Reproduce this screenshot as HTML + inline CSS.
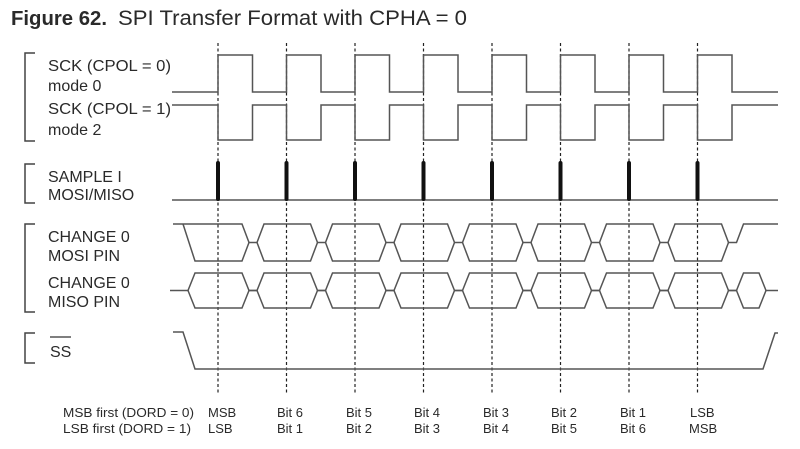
<!DOCTYPE html>
<html><head><meta charset="utf-8"><style>
html,body{margin:0;padding:0;background:#fff;}
svg{display:block;}
text{font-family:"Liberation Sans",Arial,sans-serif;fill:#2a2a2a;}
</style></head><body>
<svg width="800" height="449" viewBox="0 0 800 449" xmlns="http://www.w3.org/2000/svg">
<text x="11" y="25" font-size="20" font-weight="bold" fill="#111" textLength="96" lengthAdjust="spacingAndGlyphs">Figure 62.</text>
<text x="118" y="25" font-size="21" fill="#111" textLength="349" lengthAdjust="spacingAndGlyphs">SPI Transfer Format with CPHA = 0</text>

<g stroke="#444" stroke-width="1.5" fill="none">
<polyline points="35,53 25,53 25,141 35,141"/>
<polyline points="35,164 25,164 25,203 35,203"/>
<polyline points="35,224 25,224 25,312 35,312"/>
<polyline points="35,333 25,333 25,363 35,363"/>
</g>
<g font-size="16">
<text x="48" y="71" textLength="123" lengthAdjust="spacingAndGlyphs">SCK (CPOL = 0)</text>
<text x="48" y="91">mode 0</text>
<text x="48" y="114" textLength="123" lengthAdjust="spacingAndGlyphs">SCK (CPOL = 1)</text>
<text x="48" y="135">mode 2</text>
<text x="48" y="182">SAMPLE I</text>
<text x="48" y="200">MOSI/MISO</text>
<text x="48" y="242">CHANGE 0</text>
<text x="48" y="261">MOSI PIN</text>
<text x="48" y="288">CHANGE 0</text>
<text x="48" y="307">MISO PIN</text>
<text x="50" y="357">SS</text>
</g>
<line x1="50" y1="337" x2="71" y2="337" stroke="#333" stroke-width="1.2"/>

<g stroke="#222" stroke-width="1.2" stroke-dasharray="3,2.5">
<line x1="218" y1="43" x2="218" y2="393"/>
<line x1="286.5" y1="43" x2="286.5" y2="393"/>
<line x1="355" y1="43" x2="355" y2="393"/>
<line x1="423.5" y1="43" x2="423.5" y2="393"/>
<line x1="492" y1="43" x2="492" y2="393"/>
<line x1="560.5" y1="43" x2="560.5" y2="393"/>
<line x1="629" y1="43" x2="629" y2="393"/>
<line x1="697.5" y1="43" x2="697.5" y2="393"/>
</g>

<g stroke="#555" stroke-width="1.5" fill="none">
<polyline points="172,92 218,92 218,55 252.5,55 252.5,92 286.5,92 286.5,55 321,55 321,92 355,92 355,55 389.5,55 389.5,92 423.5,92 423.5,55 458,55 458,92 492,92 492,55 526.5,55 526.5,92 560.5,92 560.5,55 595,55 595,92 629,92 629,55 663.5,55 663.5,92 697.5,92 697.5,55 732,55 732,92 778,92"/>
<polyline points="172,105 218,105 218,140 252.5,140 252.5,105 286.5,105 286.5,140 321,140 321,105 355,105 355,140 389.5,140 389.5,105 423.5,105 423.5,140 458,140 458,105 492,105 492,140 526.5,140 526.5,105 560.5,105 560.5,140 595,140 595,105 629,105 629,140 663.5,140 663.5,105 697.5,105 697.5,140 732,140 732,105 778,105"/>
<line x1="172" y1="200" x2="778" y2="200"/>
<polyline points="173,224 242,224 249,242.5 257,242.5 264,224 310.5,224 317.5,242.5 325.5,242.5 332.5,224 379,224 386,242.5 394,242.5 401,224 447.5,224 454.5,242.5 462.5,242.5 469.5,224 516,224 523,242.5 531,242.5 538,224 584.5,224 591.5,242.5 599.5,242.5 606.5,224 653,224 660,242.5 668,242.5 675,224 721.5,224 728.5,242.5 736.5,242.5 743.5,224 778,224"/>
<polyline points="183,224 195,261 242,261 249,242.5"/>
<polyline points="257,242.5 264,261 310.5,261 317.5,242.5"/>
<polyline points="325.5,242.5 332.5,261 379,261 386,242.5"/>
<polyline points="394,242.5 401,261 447.5,261 454.5,242.5"/>
<polyline points="462.5,242.5 469.5,261 516,261 523,242.5"/>
<polyline points="531,242.5 538,261 584.5,261 591.5,242.5"/>
<polyline points="599.5,242.5 606.5,261 653,261 660,242.5"/>
<polyline points="668,242.5 675,261 721.5,261 728.5,242.5"/>
<polyline points="170,290.5 188,290.5 195,273 242,273 249,290.5 257,290.5 264,273 310.5,273 317.5,290.5 325.5,290.5 332.5,273 379,273 386,290.5 394,290.5 401,273 447.5,273 454.5,290.5 462.5,290.5 469.5,273 516,273 523,290.5 531,290.5 538,273 584.5,273 591.5,290.5 599.5,290.5 606.5,273 653,273 660,290.5 668,290.5 675,273 721.5,273 728.5,290.5 736.5,290.5 743.5,273 759,273 766,290.5 778,290.5"/>
<polyline points="188,290.5 195,308 242,308 249,290.5 257,290.5 264,308 310.5,308 317.5,290.5 325.5,290.5 332.5,308 379,308 386,290.5 394,290.5 401,308 447.5,308 454.5,290.5 462.5,290.5 469.5,308 516,308 523,290.5 531,290.5 538,308 584.5,308 591.5,290.5 599.5,290.5 606.5,308 653,308 660,290.5 668,290.5 675,308 721.5,308 728.5,290.5 736.5,290.5 743.5,308 759,308 766,290.5"/>
<polyline points="173,332 183,332 195,369 763,369 775,333 778,333"/>
</g>
<g stroke="#111" stroke-width="4" stroke-linecap="round">
<line x1="218" y1="163" x2="218" y2="199"/>
<line x1="286.5" y1="163" x2="286.5" y2="199"/>
<line x1="355" y1="163" x2="355" y2="199"/>
<line x1="423.5" y1="163" x2="423.5" y2="199"/>
<line x1="492" y1="163" x2="492" y2="199"/>
<line x1="560.5" y1="163" x2="560.5" y2="199"/>
<line x1="629" y1="163" x2="629" y2="199"/>
<line x1="697.5" y1="163" x2="697.5" y2="199"/>
</g>

<g font-size="13">
<text x="63" y="417" textLength="131" lengthAdjust="spacingAndGlyphs">MSB first (DORD = 0)</text>
<text x="63" y="433" textLength="128" lengthAdjust="spacingAndGlyphs">LSB first (DORD = 1)</text>
<text x="208" y="417">MSB</text><text x="208" y="433">LSB</text>
<text x="277" y="417">Bit 6</text><text x="277" y="433">Bit 1</text>
<text x="346" y="417">Bit 5</text><text x="346" y="433">Bit 2</text>
<text x="414" y="417">Bit 4</text><text x="414" y="433">Bit 3</text>
<text x="483" y="417">Bit 3</text><text x="483" y="433">Bit 4</text>
<text x="551" y="417">Bit 2</text><text x="551" y="433">Bit 5</text>
<text x="620" y="417">Bit 1</text><text x="620" y="433">Bit 6</text>
<text x="690" y="417">LSB</text><text x="689" y="433">MSB</text>
</g>
</svg>
</body></html>
